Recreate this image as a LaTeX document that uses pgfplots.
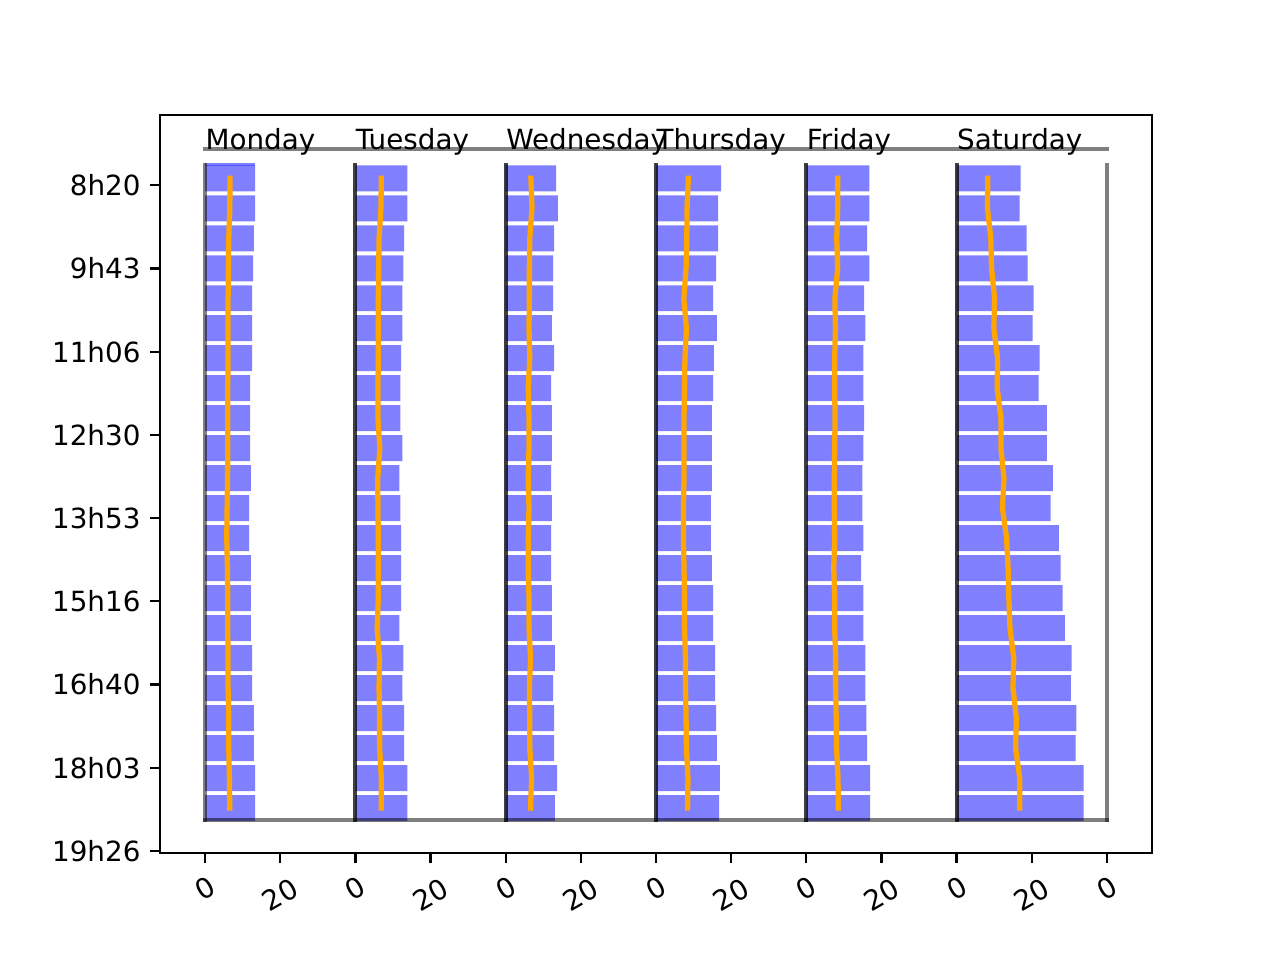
\documentclass[border=0pt]{standalone}
\usepackage{pgfplots}
\pgfplotsset{compat=1.18}
\usepackage{pgfplotstable}
\usepackage{fontspec}
\setmainfont{DejaVu Sans}

\definecolor{barblue}{HTML}{8080FF}
\definecolor{mplorange}{HTML}{FFA500}

% t = bar centre (minutes after midnight), w = bar length, m = orange line
\pgfplotstableread{
t    w    m
493  13.3 6.65
523  13.3 6.57
553  13.0 6.30
583  12.8 6.20
613  12.5 6.12
643  12.5 6.12
673  12.5 6.12
703  12.0 6.03
733  12.0 6.03
763  12.0 6.03
793  12.2 5.98
823  11.7 5.86
853  11.7 5.77
883  12.2 5.95
913  12.2 6.03
943  12.2 6.03
973  12.5 6.12
1003 12.5 6.12
1033 13.0 6.30
1063 13.0 6.30
1093 13.3 6.47
1123 13.3 6.57
}\mon

\pgfplotstableread{
t    w    m
493  13.8 6.90
523  13.8 6.80
553  13.0 6.30
583  12.8 6.20
613  12.5 6.10
643  12.5 6.10
673  12.2 6.10
703  12.0 6.00
733  12.0 6.00
763  12.5 6.50
793  11.7 5.95
823  12.0 6.00
853  12.2 6.10
883  12.2 6.10
913  12.2 6.10
943  11.7 5.80
973  12.8 6.40
1003 12.5 6.30
1033 13.0 6.45
1063 13.0 6.45
1093 13.8 6.90
1123 13.8 6.90
}\tue

\pgfplotstableread{
t    w    m
493  13.4 6.70
523  13.9 7.00
553  12.9 6.40
583  12.6 6.30
613  12.6 6.30
643  12.3 6.20
673  12.9 6.40
703  12.1 6.00
733  12.3 6.20
763  12.3 6.20
793  12.1 6.00
823  12.3 6.20
853  12.1 6.00
883  12.1 6.00
913  12.3 6.20
943  12.3 6.20
973  13.1 6.60
1003 12.6 6.30
1033 12.9 6.40
1063 12.9 6.40
1093 13.7 6.90
1123 13.1 6.60
}\wed

\pgfplotstableread{
t    w    m
493  17.3 8.60
523  16.5 8.25
553  16.5 8.20
583  16.0 8.00
613  15.2 7.40
643  16.2 8.10
673  15.4 7.70
703  15.2 7.60
733  14.9 7.45
763  14.9 7.45
793  14.9 7.45
823  14.6 7.30
853  14.6 7.30
883  14.9 7.45
913  15.2 7.60
943  15.2 7.60
973  15.7 7.85
1003 15.7 7.85
1033 16.0 8.00
1063 16.2 8.10
1093 17.0 8.50
1123 16.8 8.40
}\thu

\pgfplotstableread{
t    w    m
493  16.8 8.35
523  16.8 8.35
553  16.2 8.10
583  16.8 8.35
613  15.4 7.60
643  15.7 7.75
673  15.2 7.55
703  15.2 7.55
733  15.4 7.65
763  15.2 7.55
793  14.9 7.45
823  14.9 7.45
853  15.2 7.55
883  14.6 7.30
913  15.2 7.55
943  15.2 7.55
973  15.7 7.80
1003 15.7 7.80
1033 16.0 7.95
1063 16.2 8.05
1093 17.0 8.45
1123 17.0 8.50
}\fri

\pgfplotstableread{
t    w    m
493  17.0 8.30
523  16.8 8.20
553  18.6 9.10
583  18.9 9.30
613  20.5 10.10
643  20.2 9.90
673  22.1 10.90
703  21.8 10.80
733  24.0 11.80
763  24.0 11.80
793  25.6 12.60
823  25.0 12.20
853  27.2 13.30
883  27.7 13.70
913  28.2 13.90
943  28.8 14.20
973  30.6 15.20
1003 30.4 15.00
1033 31.9 15.90
1063 31.7 15.70
1093 33.8 16.80
1123 33.8 16.80
}\sat

\pgfplotsset{
  chartbox/.style={
    at={(57.6pt,38.4pt)}, anchor=south west, scale only axis,
    width=357.12pt, height=265.9pt,
    ymin=429.4, ymax=1168.3, y dir=reverse,
    enlargelimits=false, clip=false,
  },
  day/.style 2 args={chartbox, hide axis, xmin=#1, xmax=#2},
  bars/.style={xbar, bar width=26, bar shift=0pt, fill=barblue, draw=none},
  med/.style={mplorange, line width=1.9pt, line cap=rect},
  sep/.style={black, opacity=0.5, line width=1.4pt, line cap=rect, unbounded coords=jump},
}

\begin{document}
\begin{tikzpicture}
\useasboundingbox (0,0) rectangle (460.8pt,345.6pt);

\begin{axis}[day={-12}{252}]
  \addplot[bars] table[x=w, y=t] {\mon};
  \addplot[blue, opacity=0.5, line width=1.2pt] coordinates {(0,479.5) (13.3,479.5)};
  \addplot[med] table[x=m, y=t] {\mon};
\end{axis}
\begin{axis}[day={-52}{212}]
  \addplot[bars] table[x=w, y=t] {\tue};
  \addplot[med] table[x=m, y=t] {\tue};
\end{axis}
\begin{axis}[day={-92}{172}]
  \addplot[bars] table[x=w, y=t] {\wed};
  \addplot[med] table[x=m, y=t] {\wed};
\end{axis}
\begin{axis}[day={-132}{132}]
  \addplot[bars] table[x=w, y=t] {\thu};
  \addplot[med] table[x=m, y=t] {\thu};
\end{axis}
\begin{axis}[day={-172}{92}]
  \addplot[bars] table[x=w, y=t] {\fri};
  \addplot[med] table[x=m, y=t] {\fri};
\end{axis}
\begin{axis}[day={-212}{52}]
  \addplot[bars] table[x=w, y=t] {\sat};
  \addplot[med] table[x=m, y=t] {\sat};
\end{axis}

\begin{axis}[chartbox,
  xmin=-12, xmax=252,
  axis line style={line width=0.8pt},
  tick pos=left, tick align=outside, major tick length=3.5pt,
  tick style={black, line width=0.8pt},
  xtick={0,40,...,240}, xticklabels={0,0,0,0,0,0,0},
  extra x ticks={20,60,...,220}, extra x tick labels={20,20,20,20,20,20},
  every x tick label/.style={yshift=-9pt, rotate=30, anchor=center},
  extra x tick style={every x tick label/.style={yshift=-11.5pt, rotate=30, anchor=center}},
  ytick={500,583.25,666.5,749.75,833,916.25,999.5,1082.75,1166},
  yticklabels={8h20,9h43,11h06,12h30,13h53,15h16,16h40,18h03,19h26},
  /pgf/number format/assume math mode=true,
]
  \addplot[sep] coordinates {(0,463.7) (240,463.7)};
  \addplot[sep] coordinates {(0,1134.7) (240,1134.7)};
  \addplot[sep] coordinates {(0,480) (0,1134.7) (nan,nan) (40,480) (40,1134.7)};
  \addplot[sep] coordinates {(40,480) (40,1134.7) (nan,nan) (80,480) (80,1134.7)};
  \addplot[sep] coordinates {(80,480) (80,1134.7) (nan,nan) (120,480) (120,1134.7)};
  \addplot[sep] coordinates {(120,480) (120,1134.7) (nan,nan) (160,480) (160,1134.7)};
  \addplot[sep] coordinates {(160,480) (160,1134.7) (nan,nan) (200,480) (200,1134.7)};
  \addplot[sep] coordinates {(200,480) (200,1134.7) (nan,nan) (240,480) (240,1134.7)};
  \node[anchor=base west, inner sep=0pt] at (axis cs:0,463.7) {Monday};
  \node[anchor=base west, inner sep=0pt] at (axis cs:40,463.7) {Tuesday};
  \node[anchor=base west, inner sep=0pt] at (axis cs:80,463.7) {Wednesday};
  \node[anchor=base west, inner sep=0pt] at (axis cs:120,463.7) {Thursday};
  \node[anchor=base west, inner sep=0pt] at (axis cs:160,463.7) {Friday};
  \node[anchor=base west, inner sep=0pt] at (axis cs:200,463.7) {Saturday};
\end{axis}
\end{tikzpicture}
\end{document}
